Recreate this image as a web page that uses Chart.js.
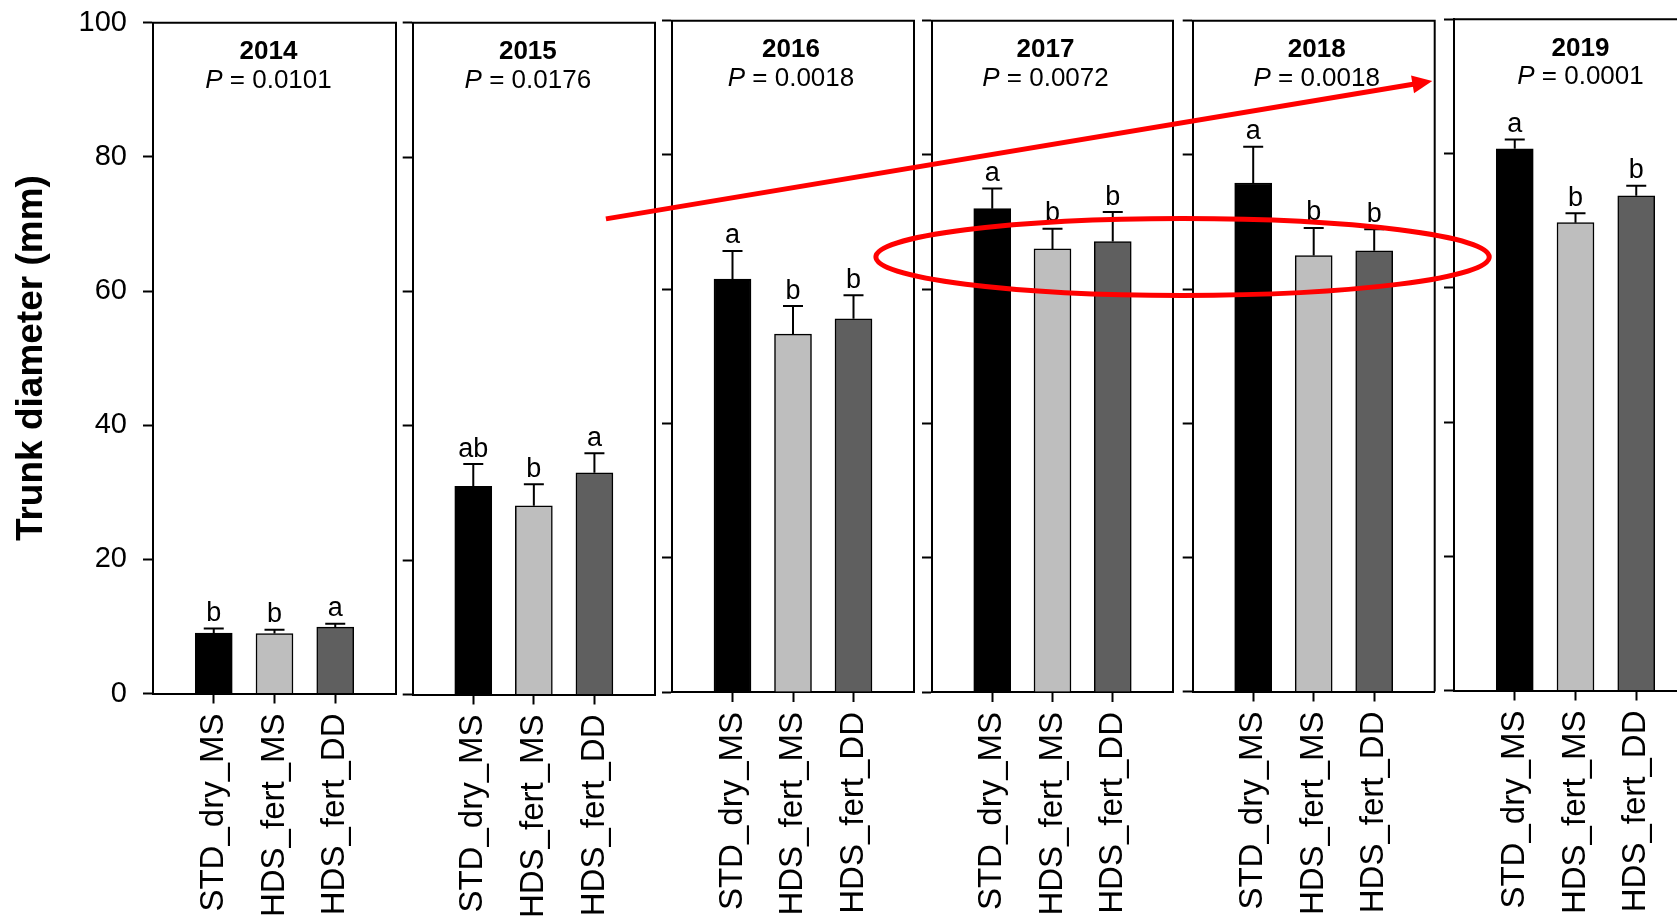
<!DOCTYPE html>
<html>
<head>
<meta charset="utf-8">
<title>Trunk diameter by year</title>
<script src="https://cdn.jsdelivr.net/npm/chart.js@4/dist/chart.umd.min.js"></script>
<style>
  html, body { margin: 0; padding: 0; background: #fff; overflow: hidden; width: 1677px; height: 919px; }
  canvas { position: absolute; top: 0; }
</style>
</head>
<body>
<script>
// ---- data ----
const years = ['2014', '2015', '2016', '2017', '2018', '2019'];
const pValues = ['0.0101', '0.0176', '0.0018', '0.0072', '0.0018', '0.0001'];
const treatments = ['STD_dry_MS', 'HDS_fert_MS', 'HDS_fert_DD'];

// mean trunk diameter (mm) per year
const stdDryMS  = [9.0, 31.0, 61.5, 72.0, 75.8, 80.7];
const hdsFertMS = [8.95, 28.1, 53.3, 66.0, 65.0, 69.7];
const hdsFertDD = [9.9, 33.0, 55.6, 67.1, 65.7, 73.7];

// upper error (mm)
const errStdDryMS  = [0.7, 3.3, 4.2, 3.0, 5.4, 1.4];
const errHdsFertMS = [0.55, 3.2, 4.2, 3.0, 4.1, 1.4];
const errHdsFertDD = [0.5, 2.9, 3.5, 4.4, 3.2, 1.5];

// significance letters
const letStdDryMS  = ['b', 'ab', 'a', 'a', 'a', 'a'];
const letHdsFertMS = ['b', 'b', 'b', 'b', 'b', 'b'];
const letHdsFertDD = ['a', 'a', 'b', 'b', 'b', 'b'];

const yTicks = [0, 20, 40, 60, 80, 100];

// ---- layout of the six panels (page pixels) ----
const FONT = '"Liberation Sans", Arial, Helvetica, sans-serif';
const H = 919;
const panels = [
  { left: 153,    right: 396,    top: 22.7, bottom: 693.5, shift: -6 },
  { left: 412.7,  right: 655,    top: 22.7, bottom: 694.5, shift: -6 },
  { left: 672,    right: 914,    top: 20.7, bottom: 692,   shift: -2 },
  { left: 932,    right: 1173,   top: 20.7, bottom: 692,   shift: -7 },
  { left: 1192.7, right: 1434.7, top: 20.7, bottom: 691.5, shift: 3 },
  { left: 1454,   right: 1697,   top: 19.3, bottom: 690.5, shift: 5 }
];
const barColors = ['rgba(0,0,0,0)', '#000000', '#bebebe', '#5f5f5f', 'rgba(0,0,0,0)'];

// error bars, letters, year / P headers and the box frame of each panel
const panelDecor = {
  id: 'panelDecor',
  afterDatasetsDraw(chart, args, opts) {
    const { ctx, chartArea: ca } = chart;
    const ys = chart.scales.y;
    const ds = chart.data.datasets[0];
    const meta = chart.getDatasetMeta(0);
    ctx.save();
    ctx.strokeStyle = '#000';
    ctx.fillStyle = '#000';
    ctx.lineWidth = 2;
    meta.data.forEach((bar, i) => {
      const v = ds.data[i];
      if (v === null || v === undefined) return;
      const yTop = ys.getPixelForValue(v);
      const yCap = ys.getPixelForValue(v + opts.errors[i]);
      ctx.beginPath();
      ctx.moveTo(bar.x, yTop);
      ctx.lineTo(bar.x, yCap);
      ctx.moveTo(bar.x - 10, yCap);
      ctx.lineTo(bar.x + 10, yCap);
      ctx.stroke();
      ctx.font = '27px ' + FONT;
      ctx.textAlign = 'center';
      ctx.textBaseline = 'alphabetic';
      ctx.fillText(opts.letters[i], bar.x, yCap - 7.5);
    });

    // frame: top and right edges
    ctx.beginPath();
    ctx.moveTo(ca.left - 1, ca.top);
    ctx.lineTo(ca.right, ca.top);
    ctx.lineTo(ca.right, ca.bottom);
    ctx.stroke();

    // header
    const cx = (ca.left + ca.right) / 2 + opts.shift;
    ctx.textBaseline = 'alphabetic';
    ctx.textAlign = 'center';
    ctx.font = 'bold 26px ' + FONT;
    ctx.fillText(opts.year, cx, ca.top + 36.3);

    const pFont = 'italic 26px ' + FONT;
    const rFont = '26px ' + FONT;
    const rest = ' = ' + opts.p;
    ctx.font = pFont;
    const wP = ctx.measureText('P').width;
    ctx.font = rFont;
    const wR = ctx.measureText(rest).width;
    const x0 = cx - (wP + wR) / 2;
    ctx.textAlign = 'left';
    ctx.font = pFont;
    ctx.fillText('P', x0, ca.top + 65);
    ctx.font = rFont;
    ctx.fillText(rest, x0 + wP, ca.top + 65);
    ctx.restore();
  }
};

const charts = [];
panels.forEach((p, i) => {
  const canvasLeft = i === 0 ? 0 : Math.floor(p.left - 12);
  const axisW = p.left - canvasLeft;
  const canvasW = Math.ceil(p.right + 3 - canvasLeft);
  const padRight = canvasW - (p.right - canvasLeft);

  const cv = document.createElement('canvas');
  cv.width = canvasW;
  cv.height = H;
  cv.style.left = canvasLeft + 'px';
  cv.style.width = canvasW + 'px';
  cv.style.height = H + 'px';
  document.body.appendChild(cv);

  const labels = [''].concat(treatments, ['']);
  const values = [null, stdDryMS[i], hdsFertMS[i], hdsFertDD[i], null];
  const errors = [null, errStdDryMS[i], errHdsFertMS[i], errHdsFertDD[i], null];
  const letters = ['', letStdDryMS[i], letHdsFertMS[i], letHdsFertDD[i], ''];

  const chart = new Chart(cv, {
    type: 'bar',
    data: {
      labels: labels,
      datasets: [{
        data: values,
        backgroundColor: barColors,
        borderColor: '#000',
        borderWidth: 1.5,
        barThickness: 37
      }]
    },
    options: {
      responsive: false,
      animation: false,
      devicePixelRatio: 1,
      events: [],
      layout: { padding: { left: 0, top: p.top, right: padRight, bottom: 0 } },
      plugins: {
        legend: { display: false },
        tooltip: { enabled: false },
        panelDecor: { errors, letters, year: years[i], p: pValues[i], shift: p.shift }
      },
      scales: {
        x: {
          type: 'category',
          offset: false,
          grid: {
            offset: false,
            drawOnChartArea: false,
            drawTicks: true,
            tickLength: 10,
            tickWidth: 2,
            tickColor: c => (labels[c.index] ? '#000' : 'rgba(0,0,0,0)')
          },
          border: { display: true, color: '#000', width: 2 },
          ticks: {
            autoSkip: false,
            minRotation: 90,
            maxRotation: 90,
            padding: 10,
            color: '#000',
            font: { family: FONT, size: 33 }
          },
          afterFit(s) {
            s.height = H - p.bottom;
            s.paddingLeft = 0;
            s.paddingRight = 0;
          }
        },
        y: {
          min: 0,
          max: 100,
          afterBuildTicks(s) { s.ticks = yTicks.map(v => ({ value: v })); },
          grid: {
            drawOnChartArea: false,
            drawTicks: true,
            tickLength: 10,
            tickWidth: 2,
            tickColor: '#000'
          },
          border: { display: true, color: '#000', width: 2 },
          ticks: {
            display: i === 0,
            padding: 16,
            color: '#000',
            font: { family: FONT, size: 29 }
          },
          title: {
            display: i === 0,
            text: 'Trunk diameter (mm)',
            color: '#000',
            font: { family: FONT, size: 37, weight: 'bold' },
            padding: { top: 10, bottom: 0 }
          },
          afterFit(s) {
            s.width = axisW;
            s.paddingTop = 0;
            s.paddingBottom = 0;
          }
        }
      }
    },
    plugins: [panelDecor]
  });
  charts.push(chart);
});

// ---- red highlight: arrow and ellipse, placed in panel coordinates ----
// each point: [panel index, category position, value in mm]
const arrowFrom = [1, 3.19, 70.8];
const arrowTo = [4, 3.96, 91.0];
const ringLeft = [2, 3.37, 64.8];
const ringRight = [5, 0.58, 64.6];
const ringHalfHeight = 5.73; // mm, on the 2017 panel's scale

function pagePoint(ref) {
  const c = charts[ref[0]];
  return {
    x: c.canvas.offsetLeft + c.scales.x.getPixelForValue(ref[1]),
    y: c.scales.y.getPixelForValue(ref[2])
  };
}

const ov = document.createElement('canvas');
ov.width = 1677;
ov.height = H;
ov.style.left = '0px';
ov.style.zIndex = 10;
ov.style.pointerEvents = 'none';
document.body.appendChild(ov);
const g = ov.getContext('2d');
g.strokeStyle = '#ff0000';
g.fillStyle = '#ff0000';
g.lineWidth = 5;

// ellipse
const L = pagePoint(ringLeft), R = pagePoint(ringRight);
const ys4 = charts[3].scales.y;
const ry = Math.abs(ys4.getPixelForValue(0) - ys4.getPixelForValue(ringHalfHeight));
g.beginPath();
g.ellipse((L.x + R.x) / 2, (L.y + R.y) / 2, Math.hypot(R.x - L.x, R.y - L.y) / 2, ry,
  Math.atan2(R.y - L.y, R.x - L.x), 0, Math.PI * 2);
g.stroke();

// arrow
const A = pagePoint(arrowFrom), B = pagePoint(arrowTo);
const len = Math.hypot(B.x - A.x, B.y - A.y);
const ux = (B.x - A.x) / len, uy = (B.y - A.y) / len;
const headLen = 20, headHalf = 9;
const bx = B.x - ux * headLen, by = B.y - uy * headLen;
g.beginPath();
g.moveTo(A.x, A.y);
g.lineTo(bx + ux * 2, by + uy * 2);
g.stroke();
g.beginPath();
g.moveTo(B.x, B.y);
g.lineTo(bx - uy * headHalf, by + ux * headHalf);
g.lineTo(bx + uy * headHalf, by - ux * headHalf);
g.closePath();
g.fill();
</script>
</body>
</html>
